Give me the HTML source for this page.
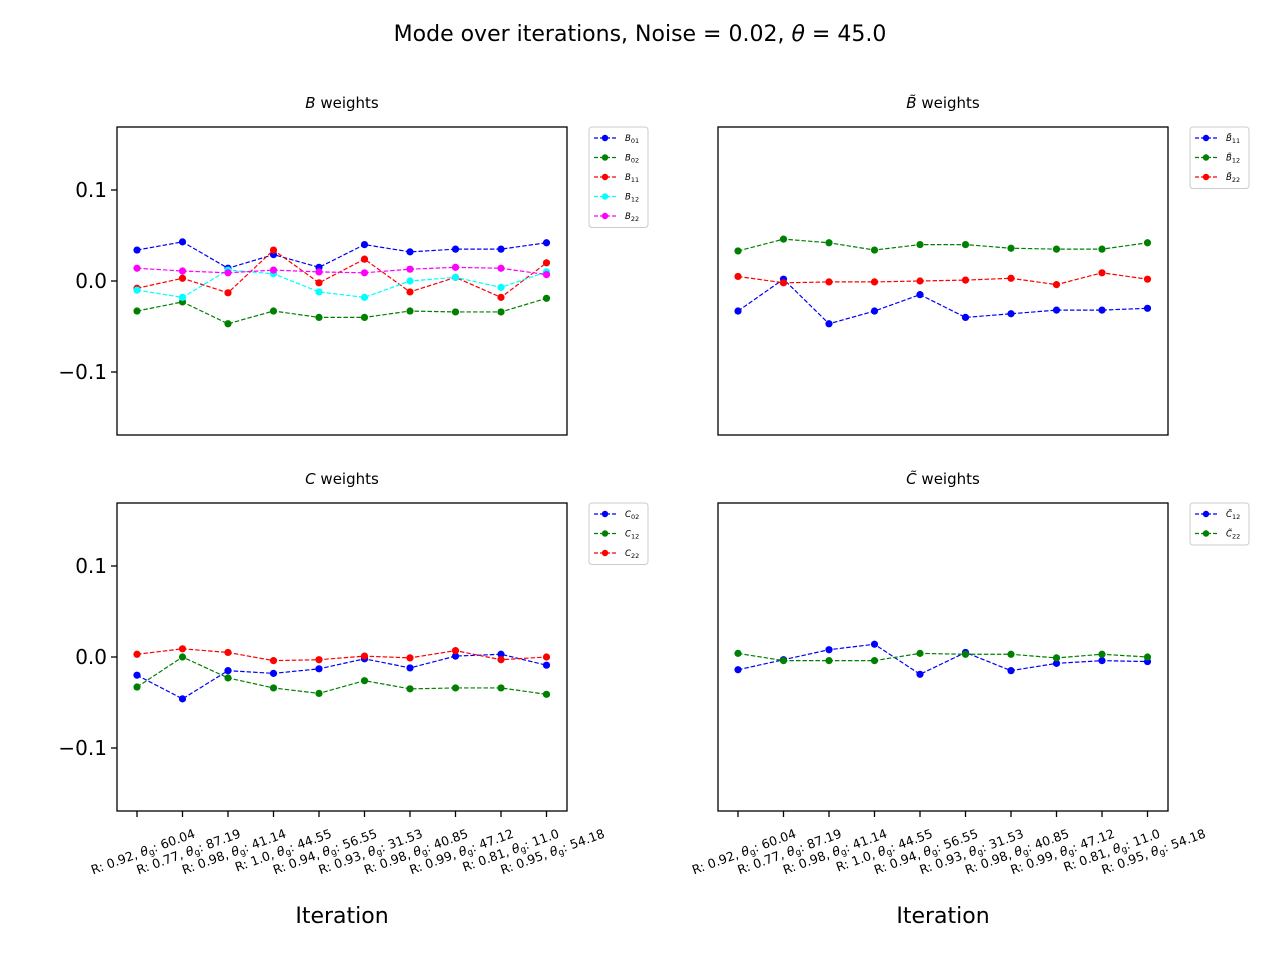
<!DOCTYPE html>
<html><head><meta charset="utf-8"><style>body{margin:0;background:#fff}svg text{font-family:"DejaVu Sans","Liberation Sans",sans-serif}</style></head>
<body>
<svg id="fig" width="1280" height="960" xmlns="http://www.w3.org/2000/svg">
<rect width="1280" height="960" fill="#fff"/>
<text x="640" y="41" font-size="22" text-anchor="middle">Mode over iterations, Noise = 0.02, <tspan font-style="italic">θ</tspan> = 45.0</text>
</svg>
<script>
const xLabels = ["R: 0.92, θg: 60.04","R: 0.77, θg: 87.19","R: 0.98, θg: 41.14","R: 1.0, θg: 44.55","R: 0.94, θg: 56.55","R: 0.93, θg: 31.53","R: 0.98, θg: 40.85","R: 0.99, θg: 47.12","R: 0.81, θg: 11.0","R: 0.95, θg: 54.18"];
const yTicks = [0.1, 0.0, -0.1];
const yTickLabels = ["0.1","0.0","−0.1"];
const B01 = [0.034,0.043,0.014,0.029,0.015,0.040,0.032,0.035,0.035,0.042];
const B02 = [-0.033,-0.023,-0.047,-0.033,-0.040,-0.040,-0.033,-0.034,-0.034,-0.019];
const B11 = [-0.008,0.003,-0.013,0.034,-0.002,0.024,-0.012,0.004,-0.018,0.020];
const B12 = [-0.010,-0.018,0.012,0.008,-0.012,-0.018,0.000,0.004,-0.007,0.010];
const B22 = [0.014,0.011,0.009,0.012,0.010,0.009,0.013,0.015,0.014,0.007];
const Bt11 = [-0.033,0.002,-0.047,-0.033,-0.015,-0.040,-0.036,-0.032,-0.032,-0.030];
const Bt12 = [0.033,0.046,0.042,0.034,0.040,0.040,0.036,0.035,0.035,0.042];
const Bt22 = [0.005,-0.002,-0.001,-0.001,0.000,0.001,0.003,-0.004,0.009,0.002];
const C02 = [-0.020,-0.046,-0.015,-0.018,-0.013,-0.002,-0.012,0.001,0.003,-0.009];
const C12 = [-0.033,0.000,-0.023,-0.034,-0.040,-0.026,-0.035,-0.034,-0.034,-0.041];
const C22 = [0.003,0.009,0.005,-0.004,-0.003,0.001,-0.001,0.007,-0.003,0.000];
const Ct12 = [-0.014,-0.003,0.008,0.014,-0.019,0.005,-0.015,-0.007,-0.004,-0.005];
const Ct22 = [0.004,-0.004,-0.004,-0.004,0.004,0.003,0.003,-0.001,0.003,0.000];

const NS="http://www.w3.org/2000/svg";
const svg=document.getElementById('fig');
function mk(t,a,p){const e=document.createElementNS(NS,t);for(const k in a)e.setAttribute(k,a[k]);(p||svg).appendChild(e);return e;}
const panels=[
 {name:'b-weights',title:'<tspan font-style="italic">B</tspan> weights',x0:117,y0:127,yt:true,xt:false,series:[
  {n:'B',s:'01',d:B01,c:'#0000ff'},{n:'B',s:'02',d:B02,c:'#008000'},{n:'B',s:'11',d:B11,c:'#ff0000'},{n:'B',s:'12',d:B12,c:'#00ffff'},{n:'B',s:'22',d:B22,c:'#ff00ff'}]},
 {name:'b-tilde-weights',title:'<tspan font-style="italic">B̃</tspan> weights',x0:718,y0:127,yt:false,xt:false,series:[
  {n:'B̃',s:'11',d:Bt11,c:'#0000ff'},{n:'B̃',s:'12',d:Bt12,c:'#008000'},{n:'B̃',s:'22',d:Bt22,c:'#ff0000'}]},
 {name:'c-weights',title:'<tspan font-style="italic">C</tspan> weights',x0:117,y0:503,yt:true,xt:true,series:[
  {n:'C',s:'02',d:C02,c:'#0000ff'},{n:'C',s:'12',d:C12,c:'#008000'},{n:'C',s:'22',d:C22,c:'#ff0000'}]},
 {name:'c-tilde-weights',title:'<tspan font-style="italic">C̃</tspan> weights',x0:718,y0:503,yt:false,xt:true,series:[
  {n:'C̃',s:'12',d:Ct12,c:'#0000ff'},{n:'C̃',s:'22',d:Ct22,c:'#008000'}]}
];
const W=450,H=308,YMAX=0.1692;
panels.forEach(p=>{
 const g=mk('g',{});
 
 
 const xs=i=>p.x0+20+i*45.5;
 const ys=v=>p.y0+H/2-v/YMAX*(H/2);
 const t=mk('text',{x:p.x0+W/2,y:p.y0-19,'font-size':15,'text-anchor':'middle'},g);t.innerHTML=p.title;
 
 
 if(p.yt){yTicks.forEach((v,i)=>{const y=ys(v);mk('line',{x1:p.x0-6,x2:p.x0,y1:y,y2:y,stroke:'#000','stroke-width':1.3},g);
  const tl=mk('text',{x:p.x0-10,y:y+7,'font-size':20,'text-anchor':'end'},g);tl.textContent=yTickLabels[i];
  
  });}
 if(p.xt){xLabels.forEach((l,i)=>{const x=xs(i);mk('line',{x1:x,x2:x,y1:p.y0+H,y2:p.y0+H+6,stroke:'#000','stroke-width':1.3},g);
  const m=l.split('θg');const tl=mk('text',{'font-size':12.5,'text-anchor':'end',transform:`translate(${x+59},${p.y0+H+26}) rotate(-20)`},g);
  tl.innerHTML=m[0]+'<tspan font-style="italic">θ</tspan><tspan font-size="9" dy="2">g</tspan><tspan dy="-2">'+m[1]+'</tspan>';
  
  });
  const xt=mk('text',{x:p.x0+W/2,y:p.y0+H+112,'font-size':22,'text-anchor':'middle'},g);xt.textContent='Iteration';
  
  }
 p.series.forEach(s=>{
  const sg=mk('g',{},g);
  
  
  mk('polyline',{points:s.d.map((v,i)=>xs(i)+','+ys(v)).join(' '),fill:'none',stroke:s.c,'stroke-width':1.2,'stroke-dasharray':'4.5,2'},sg);
  s.d.forEach((v,i)=>{const c=mk('circle',{cx:xs(i),cy:ys(v),r:3.6,fill:s.c},sg);
   
   });
 });
 mk('rect',{x:p.x0,y:p.y0,width:W,height:H,fill:'none',stroke:'#000','stroke-width':1.3},g);
 const lx=p.x0+W+22,ly=p.y0,lh=p.series.length*19.5+3;
 const lg=mk('g',{},g);
 
 
 mk('rect',{x:lx,y:ly,width:59,height:lh,rx:3,fill:'#fff',stroke:'#ccc','stroke-width':1},lg);
 p.series.forEach((s,k)=>{const y=ly+11+k*19.5;
  mk('line',{x1:lx+5,x2:lx+27,y1:y,y2:y,stroke:s.c,'stroke-width':1.2,'stroke-dasharray':'4,2'},lg);
  mk('circle',{cx:lx+16,cy:y,r:3.2,fill:s.c},lg);
  const tl=mk('text',{x:lx+36,y:y+3,'font-size':8.5,'font-style':'italic'},lg);
  tl.innerHTML=s.n+'<tspan font-size="6.5" dy="2" font-style="normal">'+s.s+'</tspan>';
  
  });
});
</script>
</body></html>
